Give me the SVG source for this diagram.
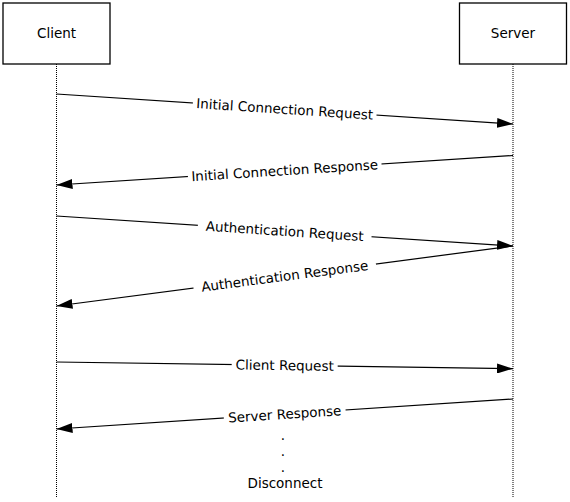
<svg xmlns="http://www.w3.org/2000/svg" width="570" height="502" viewBox="0 0 570 502">
  <style>
    text { font-family: "DejaVu Sans", Verdana, sans-serif; font-size: 13.5px; fill: #000; }
    .box { fill: #fff; stroke: #000; stroke-width: 1.3; }
    .life { stroke: #000; stroke-width: 1; stroke-dasharray: 1 1; fill: none; }
    .msg { stroke: #000; stroke-width: 1.2; fill: none; marker-end: url(#arrow); }
    .bg { fill: #fff; }
  </style>
  <defs>
    <marker id="arrow" markerUnits="userSpaceOnUse" markerWidth="16" markerHeight="10" refX="16" refY="5" orient="auto" viewBox="0 0 16 10">
      <path d="M0,0 L16,5 L0,10 z" fill="#000"/>
    </marker>
  </defs>
  <rect width="570" height="502" fill="#fff"/>

  <g id="client">
    <rect class="box" x="3" y="3" width="107" height="61"/>
    <text x="56.5" y="37.5" text-anchor="middle">Client</text>
    <line class="life" x1="56.5" y1="64" x2="56.5" y2="497"/>
  </g>
  <g id="server">
    <rect class="box" x="459.5" y="3" width="107" height="61"/>
    <text x="513" y="37.5" text-anchor="middle">Server</text>
    <line class="life" x1="513" y1="64" x2="513" y2="497"/>
  </g>

  <g id="connectors">
    <line class="msg" x1="56.5" y1="94" x2="513" y2="124"/>
    <line class="msg" x1="513" y1="155.5" x2="56.5" y2="185"/>
    <line class="msg" x1="56.5" y1="216" x2="513" y2="246"/>
    <line class="msg" x1="513" y1="246" x2="56.5" y2="306"/>
    <line class="msg" x1="56.5" y1="362" x2="513" y2="368.7"/>
    <line class="msg" x1="513" y1="399" x2="56.5" y2="429"/>
  </g>

  <g id="labels">
    <g transform="translate(284.7,109) rotate(3.76)">
      <rect class="bg" x="-92" y="-8" width="184" height="16"/>
      <text x="0" y="4.9" text-anchor="middle">Initial Connection Request</text>
    </g>
    <g transform="translate(284.7,170.3) rotate(-3.7)">
      <rect class="bg" x="-97" y="-8" width="194" height="16"/>
      <text x="0" y="4.9" text-anchor="middle">Initial Connection Response</text>
    </g>
    <g transform="translate(284.7,231) rotate(3.76)">
      <rect class="bg" x="-87" y="-8" width="174" height="16"/>
      <text x="0" y="4.9" text-anchor="middle">Authentication Request</text>
    </g>
    <g transform="translate(284.7,276) rotate(-7.49)">
      <rect class="bg" x="-92" y="-8" width="184" height="16"/>
      <text x="0" y="4.9" text-anchor="middle">Authentication Response</text>
    </g>
    <g transform="translate(284.7,365.3) rotate(0.84)">
      <rect class="bg" x="-53" y="-8" width="106" height="16"/>
      <text x="0" y="4.9" text-anchor="middle">Client Request</text>
    </g>
    <g transform="translate(284.7,414) rotate(-3.76)">
      <rect class="bg" x="-61" y="-8" width="122" height="16"/>
      <text x="0" y="4.9" text-anchor="middle">Server Response</text>
    </g>
  </g>

  <g id="disconnect">
    <text text-anchor="middle">
      <tspan x="285" y="440">.</tspan>
      <tspan x="285" y="456">.</tspan>
      <tspan x="285" y="472">.</tspan>
      <tspan x="285" y="488">Disconnect</tspan>
    </text>
  </g>
</svg>
